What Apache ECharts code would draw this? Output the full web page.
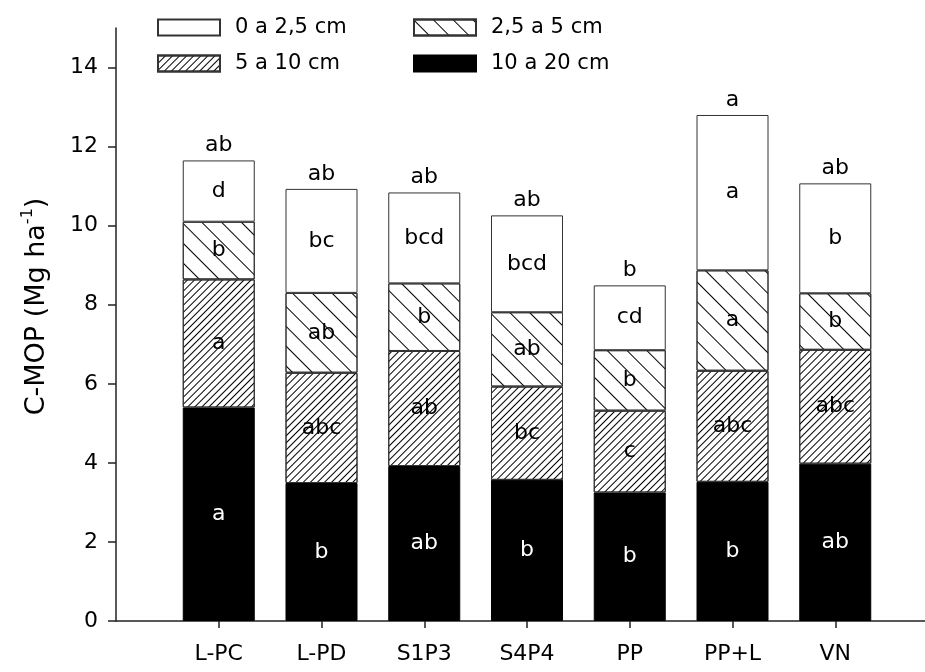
<!DOCTYPE html>
<html><head><meta charset="utf-8">
<script src="https://cdn.jsdelivr.net/npm/echarts@6/dist/echarts.min.js"></script>
<style>html,body{margin:0;padding:0;background:#fff}#c{width:925px;height:672px}</style>
</head><body><div id="c"></div>
<script>
const categories = ['L-PC','L-PD','S1P3','S4P4','PP','PP+L','VN'];
const seriesNames = ['0 a 2,5 cm','2,5 a 5 cm','5 a 10 cm','10 a 20 cm'];
// segment values (Mg ha-1)
const v10a20 = [5.40, 3.49, 3.92, 3.57, 3.25, 3.52, 3.98];
const v5a10  = [3.24, 2.79, 2.91, 2.36, 2.07, 2.81, 2.88];
const v25a5  = [1.46, 2.02, 1.71, 1.88, 1.53, 2.54, 1.43];
const v0a25  = [1.55, 2.63, 2.30, 2.45, 1.64, 3.93, 2.78];
// significance letters
const l10a20 = ['a','b','ab','b','b','b','ab'];
const l5a10  = ['a','abc','ab','bc','c','abc','abc'];
const l25a5  = ['b','ab','b','ab','b','a','b'];
const l0a25  = ['d','bc','bcd','bcd','cd','a','b'];
const lTotal = ['ab','ab','ab','ab','b','a','ab'];
const yTicks = [0,2,4,6,8,10,12,14];

const FONT = 'DejaVu Sans';
const xCats = [''].concat(categories, ['']);
const toData = arr => arr.map((v,i)=>[i+1, v]);
const totals = categories.map((c,i)=>v10a20[i]+v5a10[i]+v25a5[i]+v0a25[i]);

const decalBack = {symbol:'rect', symbolSize:1, dashArrayX:[1,0], dashArrayY:[1,13], rotation: Math.PI/4, color:'#000'};
const decalFwd  = {symbol:'rect', symbolSize:1, dashArrayX:[1,0], dashArrayY:[1,3.3], rotation: -Math.PI/4, color:'#000'};

function barSeries(name, vals, letters, style, labelColor){
  return {
    name, type:'bar', stack:'s', barWidth:72,
    data: toData(vals),
    itemStyle: style,
    emphasis:{disabled:true},
    label:{show:true, position:'inside', color:labelColor, fontFamily:FONT, fontSize:22,
      formatter: p => letters[p.dataIndex]}
  };
}

const chart = echarts.init(document.getElementById('c'), null, {renderer:'canvas'});
const legendBase = {itemWidth:62, itemHeight:16, padding:0, icon:'rect',
  textStyle:{fontFamily:FONT, fontSize:21, color:'#000', padding:[0,0,0,10]}, selectedMode:false};
chart.setOption({
  animation:false,
  backgroundColor:'#fff',
  legend:[
    Object.assign({}, legendBase, {data:[seriesNames[0]], left:157, top:17}),
    Object.assign({}, legendBase, {data:[seriesNames[1]], left:413, top:17}),
    Object.assign({}, legendBase, {data:[seriesNames[2]], left:157, top:53}),
    Object.assign({}, legendBase, {data:[seriesNames[3]], left:413, top:53})
  ],
  grid:{left:116, top:28, height:593, width:822, containLabel:false, outerBoundsMode:'none'},
  xAxis:{type:'category', data:xCats, boundaryGap:false,
    axisLine:{lineStyle:{color:'#222', width:1.5}},
    axisTick:{show:true, length:7, inside:false, interval:(i)=> i>=1 && i<=categories.length, lineStyle:{color:'#222', width:1.5}},
    axisLabel:{interval:0, margin:22, fontFamily:FONT, fontSize:22, color:'#000'},
    splitLine:{show:false}},
  yAxis:{type:'value', min:0, max:15,
    axisLine:{show:true, lineStyle:{color:'#222', width:1.5}},
    axisTick:{show:true, length:8, customValues:yTicks, lineStyle:{color:'#222', width:1.5}},
    axisLabel:{customValues:yTicks, margin:18, fontFamily:FONT, fontSize:22, color:'#000'},
    splitLine:{show:false},
    name:'C-MOP (Mg ha{sup|-1})', nameLocation:'middle', nameGap:62, nameRotate:90,
    nameTextStyle:{fontFamily:FONT, fontSize:27, color:'#000', lineHeight:34, padding:[0,0,0,36],
      rich:{sup:{fontFamily:FONT, fontSize:16, color:'#000', verticalAlign:'top', lineHeight:16}}}
  },
  series:[
    barSeries(seriesNames[3], v10a20, l10a20, {color:'#000', borderColor:'#000', borderWidth:1}, '#fff'),
    barSeries(seriesNames[2], v5a10, l5a10, {color:'#fff', borderColor:'#333', borderWidth:1, decal:decalFwd}, '#000'),
    barSeries(seriesNames[1], v25a5, l25a5, {color:'#fff', borderColor:'#333', borderWidth:1, decal:decalBack}, '#000'),
    barSeries(seriesNames[0], v0a25, l0a25, {color:'#fff', borderColor:'#333', borderWidth:1}, '#000'),
    {type:'scatter', name:'total', data: totals.map((t,i)=>[i+1,t]), symbolSize:0, silent:true,
      itemStyle:{opacity:1},
      label:{show:true, position:'top', distance:4, fontFamily:FONT, fontSize:22, color:'#000',
        formatter:p=>lTotal[p.dataIndex]}}
  ]
});
</script></body></html>
